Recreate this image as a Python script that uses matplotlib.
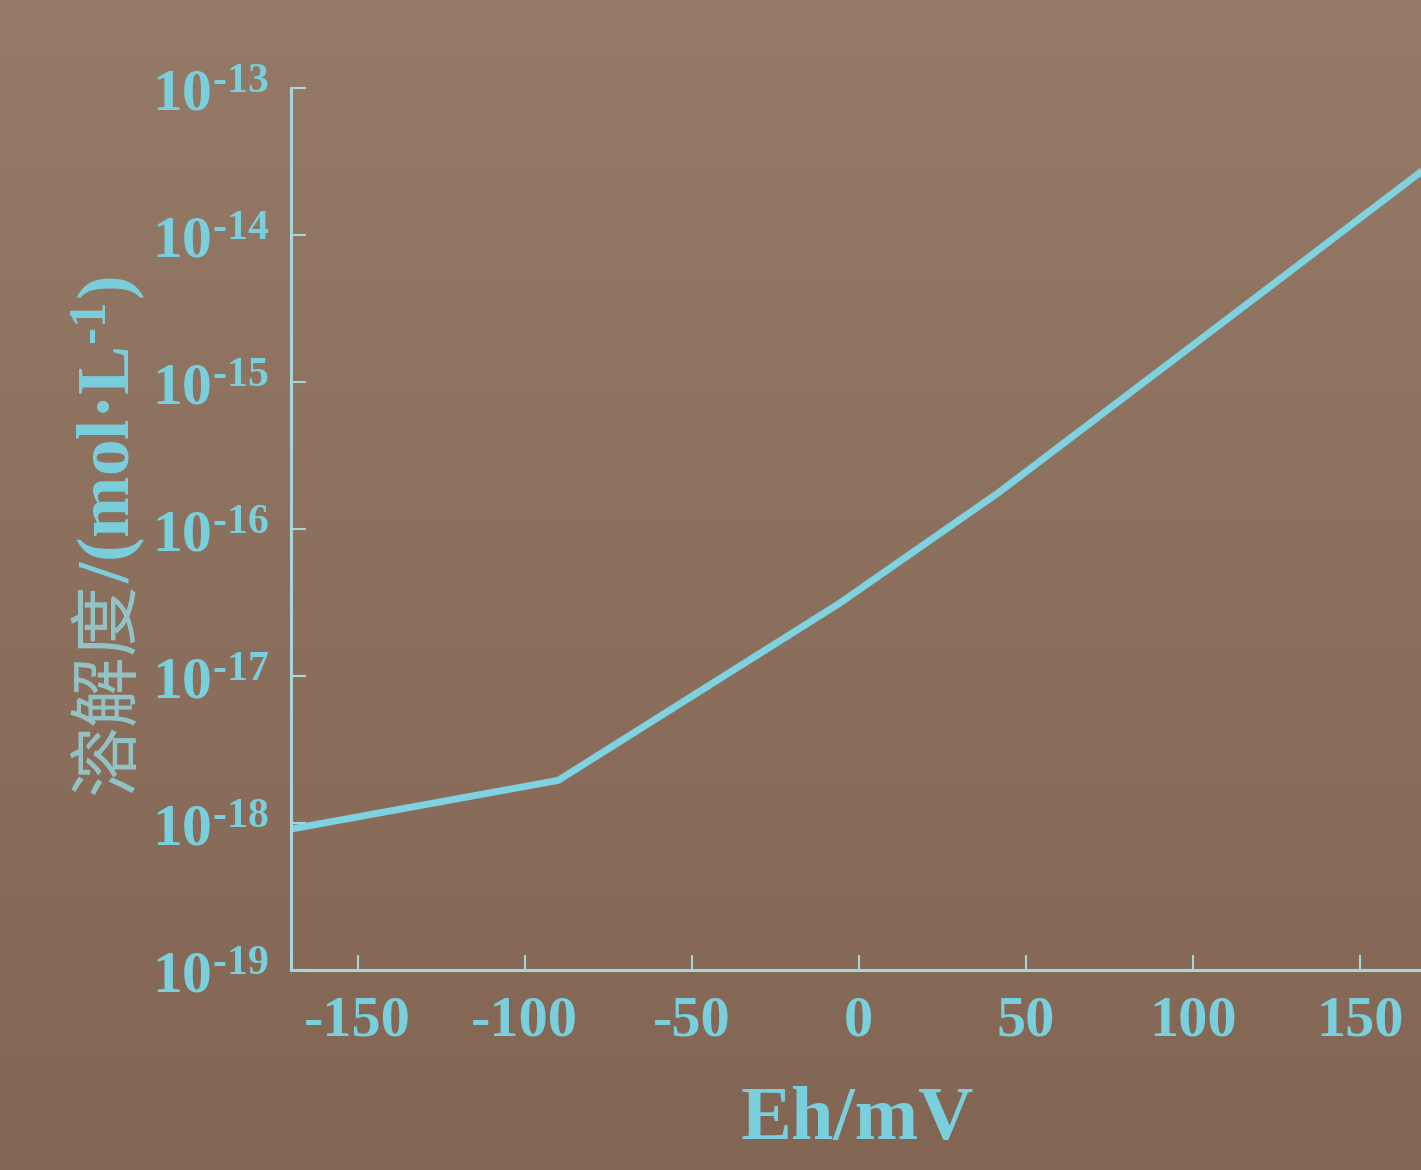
import numpy as np
import matplotlib
matplotlib.use('Agg')
import matplotlib.pyplot as plt
from matplotlib.colors import LinearSegmentedColormap

plt.rcParams['axes.unicode_minus'] = False
plt.rcParams['mathtext.fontset'] = 'custom'
plt.rcParams['mathtext.rm'] = 'Liberation Serif:bold'
plt.rcParams['mathtext.bf'] = 'Liberation Serif:bold'
plt.rcParams['mathtext.it'] = 'Liberation Serif:bold:italic'

# data
eh = [-170, -90, -6, 42, 100, 170]
solubility = [9.1e-19, 1.95e-18, 3.1e-17, 1.78e-16, 1.78e-15, 2.88e-14]
xticks = [-150, -100, -50, 0, 50, 100, 150]
yticks = [1e-19, 1e-18, 1e-17, 1e-16, 1e-15, 1e-14, 1e-13]
ytick_labels = [r'$10^{\text{-}19}$', r'$10^{\text{-}18}$', r'$10^{\text{-}17}$',
                r'$10^{\text{-}16}$', r'$10^{\text{-}15}$', r'$10^{\text{-}14}$',
                r'$10^{\text{-}13}$']

line_col = '#7fd3e0'
text_col = '#7acfdc'
axis_col = '#a6d6dc'

W, H = 1421, 1170
fig = plt.figure(figsize=(W / 100, H / 100), dpi=100)

# brownish gradient background
bg = fig.add_axes([0, 0, 1, 1], zorder=-5)
cmap = LinearSegmentedColormap.from_list('bg', ['#957a68', '#836553'])
grad = np.linspace(0, 1, 256).reshape(-1, 1)
bg.imshow(grad, cmap=cmap, aspect='auto', extent=[0, 1, 0, 1], origin='upper')
bg.axis('off')

ax = fig.add_axes([291 / W, (H - 970) / H, 1 - 291 / W, (970 - 88) / H])
ax.set_facecolor('none')
ax.plot(eh, solubility, color=line_col, lw=5, solid_capstyle='butt', clip_on=True)

ax.set_yscale('log')
ax.set_xlim(-170, 168.3)
ax.set_ylim(1e-19, 1e-13)
ax.set_xticks(xticks)
ax.set_xticklabels([str(t) for t in xticks])
ax.set_yticks(yticks)
ax.set_yticklabels(ytick_labels)
ax.minorticks_off()

for s in ['top', 'right']:
    ax.spines[s].set_visible(False)
for s in ['left', 'bottom']:
    ax.spines[s].set_color(axis_col)
    ax.spines[s].set_linewidth(2.2)

ax.tick_params(direction='in', length=11, width=1.5, color=axis_col,
               labelcolor=text_col, labelsize=43)
ax.tick_params(axis='x', pad=18, labelsize=42)
ax.tick_params(axis='y', pad=16)
for lab in ax.get_xticklabels():
    lab.set_fontfamily('Liberation Serif')
    lab.set_fontweight('bold')

fig.text(857 / W, (H - 1120) / H, 'Eh/mV', color=text_col, fontsize=55,
         fontfamily='Liberation Serif', fontweight='bold', ha='center', va='center')

# y label in two parts: light Chinese text + bold unit
fig.text(128 / W, (H - 795) / H, '溶解度', color='#93c3c6', fontsize=51,
         fontfamily='Noto Sans CJK SC', fontweight='light', rotation=90,
         rotation_mode='anchor', ha='left', va='baseline')
fig.text(130 / W, (H - 583) / H, r'/(mol·L$^{\text{-}1}$)', color=text_col, fontsize=53,
         fontfamily='Liberation Serif', fontweight='bold', rotation=90,
         rotation_mode='anchor', ha='left', va='baseline')

fig.savefig('out.png', dpi=100)
